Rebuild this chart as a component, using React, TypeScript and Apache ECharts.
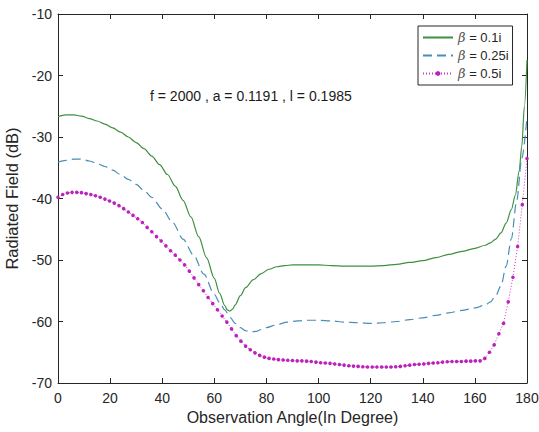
import React, { useEffect, useRef } from "react";
import * as echarts from "echarts";

const xTicks = [0, 20, 40, 60, 80, 100, 120, 140, 160, 180];
const yTicks = [-70, -60, -50, -40, -30, -20, -10];

const seriesNames = ["β = 0.1i", "β = 0.25i", "β = 0.5i"];

const greenAngles = [0, 3, 6, 9, 12, 15, 18, 21, 24, 27, 30, 33, 36, 39, 42, 45, 48, 51, 54, 57, 60, 62, 64, 65, 66, 67, 68, 70, 72, 75, 78, 81, 84, 87, 90, 95, 100, 105, 110, 115, 120, 125, 130, 135, 140, 145, 150, 155, 160, 164, 166, 168, 170, 172, 174, 175.5, 177, 178, 179, 180];
const greenValues = [-26.7, -26.4, -26.4, -26.6, -27.0, -27.4, -27.9, -28.5, -29.2, -30.0, -30.9, -31.9, -33.1, -34.5, -36.1, -38.0, -40.3, -43.0, -46.2, -49.6, -53.0, -55.4, -57.4, -58.1, -58.3, -58.0, -57.3, -55.8, -54.5, -53.2, -52.2, -51.5, -51.1, -50.9, -50.8, -50.8, -50.8, -50.9, -51.0, -51.0, -51.0, -50.9, -50.7, -50.4, -50.1, -49.6, -49.1, -48.6, -48.1, -47.6, -47.2, -46.6, -45.6, -44.0, -41.8, -39.5, -35.5, -31.5, -25.0, -17.5];

const blueAngles = [0, 3, 6, 9, 12, 15, 18, 21, 24, 27, 30, 33, 36, 40, 44, 48, 52, 56, 60, 62, 64, 66, 68, 70, 72, 74, 76, 78, 80, 84, 88, 92, 96, 100, 105, 110, 115, 120, 125, 130, 135, 140, 145, 150, 155, 160, 164, 166, 168, 170, 172, 174, 176, 178, 180];
const blueValues = [-34.1, -33.8, -33.6, -33.6, -33.9, -34.3, -34.8, -35.4, -36.1, -36.9, -37.7, -38.7, -39.8, -41.7, -43.9, -46.6, -49.2, -52.3, -55.6, -56.9, -58.1, -59.3, -60.3, -61.0, -61.5, -61.7, -61.6, -61.3, -61.0, -60.5, -60.1, -59.9, -59.8, -59.8, -59.9, -60.1, -60.2, -60.3, -60.2, -60.0, -59.7, -59.4, -59.0, -58.6, -58.2, -57.8, -57.3, -56.8, -55.8, -54.2, -51.0, -46.5, -40.5, -33.5, -26.8];

const magentaAngles = [0, 1.8, 3.6, 5.4, 7.2, 9, 10.8, 12.6, 14.4, 16.2, 18, 19.8, 21.6, 23.4, 25.2, 27, 28.8, 30.6, 32.4, 34.2, 36, 37.8, 39.6, 41.4, 43.2, 45, 46.8, 48.6, 50.4, 52.2, 54, 55.8, 57.6, 59.4, 61.2, 63, 64.8, 66.6, 68.4, 70.2, 72, 73.8, 75.6, 77.4, 79.2, 81, 82.8, 84.6, 86.4, 88.2, 90, 91.8, 93.6, 95.4, 97.2, 99, 100.8, 102.6, 104.4, 106.2, 108, 109.8, 111.6, 113.4, 115.2, 117, 118.8, 120.6, 122.4, 124.2, 126, 127.8, 129.6, 131.4, 133.2, 135, 136.8, 138.6, 140.4, 142.2, 144, 145.8, 147.6, 149.4, 151.2, 153, 154.8, 156.6, 158.4, 160.2, 162, 163.8, 165.6, 167.4, 169.2, 171, 172.8, 174.6, 176.4, 178.2, 180];
const magentaValues = [-39.8, -39.35, -39.1, -39.0, -39.0, -39.05, -39.2, -39.35, -39.55, -39.8, -40.1, -40.4, -40.75, -41.15, -41.65, -42.2, -42.75, -43.3, -43.9, -44.7, -45.4, -46.2, -46.9, -47.7, -48.5, -49.2, -50.0, -50.8, -51.8, -52.9, -54.0, -55.0, -56.1, -57.1, -58.1, -59.1, -60.1, -61.2, -62.3, -63.2, -64.0, -64.6, -65.1, -65.5, -65.8, -66.0, -66.1, -66.2, -66.25, -66.3, -66.35, -66.4, -66.4, -66.45, -66.5, -66.6, -66.7, -66.75, -66.8, -66.9, -67.0, -67.1, -67.2, -67.25, -67.3, -67.35, -67.4, -67.4, -67.4, -67.4, -67.4, -67.4, -67.35, -67.3, -67.2, -67.1, -67.0, -66.95, -66.9, -66.8, -66.75, -66.7, -66.6, -66.55, -66.5, -66.5, -66.5, -66.45, -66.45, -66.4, -66.4, -66.0, -65.0, -63.8, -62.0, -60.3, -56.8, -52.8, -47.8, -41.0, -33.5];

const annotation = "f = 2000 , a = 0.1191 , l = 0.1985";

const zip = (xs: number[], ys: number[]) => xs.map((x, i) => [x, ys[i]]);

const FONT = "'Liberation Sans', Arial, sans-serif";
const AXIS = "#262626";

export default function App() {
  const ref = useRef<HTMLDivElement>(null);
  useEffect(() => {
    if (!ref.current) return;
    const chart = echarts.init(ref.current, null, { renderer: "svg" });
    const axisCommon = {
      type: "value" as const,
      axisLine: { show: true, onZero: false, lineStyle: { color: AXIS, width: 1 } },
      axisTick: { show: true, inside: true, length: 5, lineStyle: { color: AXIS } },
      splitLine: { show: false },
    };
    chart.setOption({
      animation: false,
      backgroundColor: "#ffffff",
      grid: { left: 58, right: 12, top: 14, bottom: 49, containLabel: false, outerBoundsMode: "none" },
      xAxis: [
        {
          ...axisCommon,
          min: xTicks[0],
          max: xTicks[xTicks.length - 1],
          interval: 20,
          position: "bottom",
          axisLabel: { color: AXIS, fontSize: 14, fontFamily: FONT, margin: 8 },
          name: "Observation Angle(In Degree)",
          nameLocation: "middle",
          nameGap: 21,
          nameTextStyle: { color: AXIS, fontSize: 16, fontFamily: FONT },
        },
        {
          ...axisCommon,
          min: xTicks[0],
          max: xTicks[xTicks.length - 1],
          interval: 20,
          position: "top",
          axisLabel: { show: false },
        },
      ],
      yAxis: [
        {
          ...axisCommon,
          min: yTicks[0],
          max: yTicks[yTicks.length - 1],
          interval: 10,
          position: "left",
          axisLabel: { color: AXIS, fontSize: 14, fontFamily: FONT, margin: 6 },
          name: "Radiated Field (dB)",
          nameLocation: "middle",
          nameGap: 26,
          nameTextStyle: { color: AXIS, fontSize: 16.5, fontFamily: FONT },
        },
        {
          ...axisCommon,
          min: yTicks[0],
          max: yTicks[yTicks.length - 1],
          interval: 10,
          position: "right",
          axisLabel: { show: false },
        },
      ],
      legend: {
        orient: "vertical",
        left: 418,
        top: 26,
        itemWidth: 30,
        itemHeight: 6,
        itemGap: 5,
        padding: [5, 4, 5, 4],
        borderColor: AXIS,
        borderWidth: 1,
        backgroundColor: "#ffffff",
        data: [
          { name: seriesNames[0], itemStyle: { opacity: 0 } },
          { name: seriesNames[1], itemStyle: { opacity: 0 } },
          { name: seriesNames[2] },
        ],
        formatter: (name: string) => name.replace("β", "{b|β}"),
        textStyle: {
          color: AXIS,
          fontSize: 13,
          fontFamily: FONT,
          lineHeight: 12,
          rich: {
            b: { fontStyle: "italic", fontSize: 13, fontFamily: "'DejaVu Serif', serif", color: "#555555" },
          },
        },
      },
      graphic: [
        {
          type: "text",
          left: 150,
          top: 89,
          style: { text: annotation, fontSize: 14, fontFamily: FONT, fill: "#1a1a1a" },
        },
      ],
      series: [
        {
          name: seriesNames[0],
          type: "line",
          data: zip(greenAngles, greenValues),
          symbol: "none",
          smooth: 0.3,
          smoothMonotone: "x",
          lineStyle: { color: "#3e8f3e", width: 1.2 },
          itemStyle: { color: "#3e8f3e" },
        },
        {
          name: seriesNames[1],
          type: "line",
          data: zip(blueAngles, blueValues),
          symbol: "none",
          smooth: 0.3,
          smoothMonotone: "x",
          lineStyle: { color: "#4a8db5", width: 1.2, type: [9, 5] },
          itemStyle: { color: "#4a8db5" },
        },
        {
          name: seriesNames[2],
          type: "line",
          data: zip(magentaAngles, magentaValues),
          symbol: "circle",
          symbolSize: 3.6,
          showSymbol: true,
          smooth: false,
          lineStyle: { color: "#cc33cc", width: 1, type: [1, 2] },
          itemStyle: { color: "#bb22bb" },
        },
      ],
    });
    return () => chart.dispose();
  }, []);
  return <div ref={ref} style={{ width: 539, height: 432, position: "absolute", left: 0, top: 0 }} />;
}
